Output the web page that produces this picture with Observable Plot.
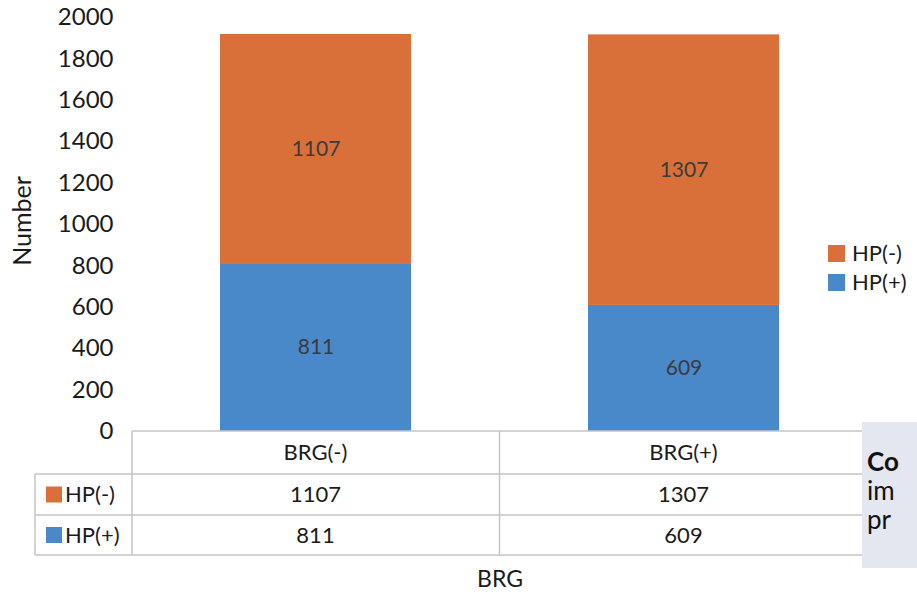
<!DOCTYPE html>
<html>
<head>
<meta charset="utf-8">
<script src="https://cdn.jsdelivr.net/npm/d3@7"></script>
<script src="https://cdn.jsdelivr.net/npm/@observablehq/plot@0.6"></script>
<style>
  html, body { margin: 0; padding: 0; background: #fff; }
  svg { display: block; }
</style>
</head>
<body>
<div id="chart"></div>
<script>
// ---- data ----
const categories = ["BRG(-)", "BRG(+)"];
const seriesNames = ["HP(+)", "HP(-)"];   // bottom to top in the stack
const tableOrder = ["HP(-)", "HP(+)"];    // rows in the data table / legend
const hpMinus = [1107, 1307];
const hpPlus = [811, 609];
const yTicks = [0, 200, 400, 600, 800, 1000, 1200, 1400, 1600, 1800, 2000];
const seriesColors = ["#4a89c9", "#d9703a"];
const yLabel = "Number";
const xLabel = "BRG";
const overlayLines = ["Co", "im", "pr"];

const data = [];
categories.forEach((c, i) => {
  data.push({cat: c, series: "HP(+)", value: hpPlus[i]});
  data.push({cat: c, series: "HP(-)", value: hpMinus[i]});
});

const FONT = "Lato, 'Open Sans', 'DejaVu Sans', sans-serif";
const TEXT = "#1a1a1a";
const GRID = "#c4c4c4";

// data table under the plot + axis titles
function tableMark(index, scales, values, dims) {
  const x = scales.x, color = scales.color;
  const g = d3.create("svg:g").attr("font-family", FONT).attr("fill", TEXT).attr("text-anchor", "start");
  const left = dims.marginLeft, right = dims.width - dims.marginRight;
  const top = dims.height - dims.marginBottom;
  const rows = [top, top + 43, top + 84, top + 124];
  const labelLeft = 35;
  const centers = categories.map(c => x(c) + x.bandwidth() / 2);
  const bounds = [left];
  for (let i = 0; i < centers.length - 1; i++) bounds.push((centers[i] + centers[i + 1]) / 2);
  bounds.push(right);

  const lines = g.append("g").attr("stroke", GRID).attr("stroke-width", 1.5);
  lines.append("line").attr("x1", left).attr("x2", right).attr("y1", rows[0]).attr("y2", rows[0]);
  for (let r = 1; r < rows.length; r++)
    lines.append("line").attr("x1", labelLeft).attr("x2", right).attr("y1", rows[r]).attr("y2", rows[r]);
  bounds.slice(0, -1).forEach(b =>
    lines.append("line").attr("x1", b).attr("x2", b).attr("y1", rows[0]).attr("y2", rows[3]));
  lines.append("line").attr("x1", labelLeft).attr("x2", labelLeft).attr("y1", rows[1]).attr("y2", rows[3]);

  categories.forEach((c, i) =>
    g.append("text").attr("x", centers[i]).attr("y", (rows[0] + rows[1]) / 2)
      .attr("text-anchor", "middle").attr("dy", "0.35em").attr("font-size", 22).text(c));
  tableOrder.forEach((s, r) => {
    const yc = (rows[r + 1] + rows[r + 2]) / 2;
    g.append("rect").attr("x", 46).attr("y", yc - 8).attr("width", 16).attr("height", 16).attr("fill", color(s));
    g.append("text").attr("x", 65).attr("y", yc).attr("dy", "0.35em").attr("font-size", 22).text(s);
    const vals = s === "HP(-)" ? hpMinus : hpPlus;
    categories.forEach((c, i) =>
      g.append("text").attr("x", centers[i]).attr("y", yc).attr("dy", "0.35em")
        .attr("text-anchor", "middle").attr("font-size", 22).text(vals[i]));
  });
  g.append("text").attr("x", (left + right) / 2).attr("y", rows[3] + 24).attr("dy", "0.35em")
    .attr("text-anchor", "middle").attr("font-size", 23).text(xLabel);
  // y title
  const ymid = (dims.marginTop + top) / 2;
  g.append("text").attr("transform", `translate(22,${ymid - 3}) rotate(-90)`)
    .attr("text-anchor", "middle").attr("dy", "0.35em").attr("font-size", 25).text(yLabel);
  return g.node();
}

// legend on the right
function legendMark(index, scales, values, dims) {
  const color = scales.color;
  const g = d3.create("svg:g").attr("font-family", FONT).attr("fill", TEXT).attr("text-anchor", "start");
  const lx = 828, ly = [253, 282];
  tableOrder.forEach((s, i) => {
    g.append("rect").attr("x", lx).attr("y", ly[i] - 8).attr("width", 17).attr("height", 17).attr("fill", color(s));
    g.append("text").attr("x", lx + 24).attr("y", ly[i]).attr("dy", "0.35em").attr("font-size", 22).text(s);
  });
  // cropped caption box at the bottom right of the source image
  const box = g.append("g");
  box.append("rect").attr("x", 862).attr("y", 422).attr("width", 60).attr("height", 146).attr("fill", "#e4e6f0");
  overlayLines.forEach((t, i) =>
    box.append("text").attr("x", 867).attr("y", 462 + i * 29).attr("dy", "0.35em")
      .attr("font-size", 26).attr("font-weight", i === 0 ? "bold" : "normal").attr("fill", "#111").text(t));
  return g.node();
}

const plot = Plot.plot({
  width: 917,
  height: 594,
  marginLeft: 132,
  marginRight: 49,
  marginTop: 17,
  marginBottom: 163,
  style: {fontFamily: FONT, background: "#fff", color: TEXT},
  x: {domain: categories, paddingInner: 0.48, paddingOuter: 0.24, axis: null},
  y: {domain: [0, 2000], axis: null},
  color: {domain: seriesNames, range: seriesColors},
  marks: [
    Plot.barY(data, {x: "cat", y: "value", fill: "series", order: seriesNames}),
    Plot.text(data, Plot.stackY({
      x: "cat", y: "value", z: "series", order: seriesNames,
      text: d => String(d.value), fill: "#3b3b3b", fontSize: 21
    })),
    Plot.axisY(yTicks, {tickSize: 0, tickPadding: 19, fontSize: 24, label: null, tickFormat: d => String(d)}),
    tableMark,
    legendMark
  ]
});

document.getElementById("chart").appendChild(plot);
</script>
</body>
</html>
